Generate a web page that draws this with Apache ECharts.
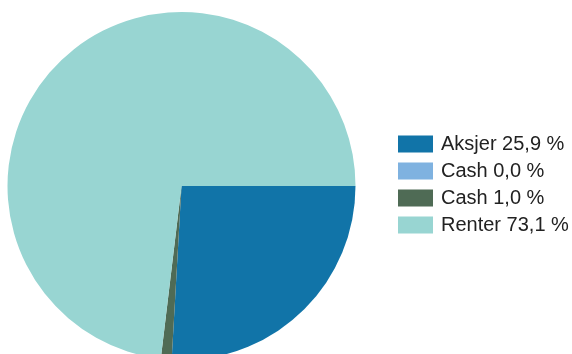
<!DOCTYPE html>
<html><head><meta charset="utf-8">
<script src="https://cdn.jsdelivr.net/npm/echarts@6/dist/echarts.min.js"></script>
<style>html,body{margin:0;padding:0;background:#fff}#c{width:572px;height:354px}</style>
</head><body><div id="c"></div>
<script>
const categories = ['Aksjer', 'Cash', 'Cash', 'Renter'];
const values = [25.9, 0.0, 1.0, 73.1];
const colors = ['#1174a8', '#7fb2e0', '#4f6b55', '#98d5d2'];

const labels = categories.map((c, i) => c + ' ' + values[i].toFixed(1).replace('.', ',') + ' %');
const data = values.map((v, i) => ({ name: labels[i], value: v, itemStyle: { color: colors[i] } }));

const chart = echarts.init(document.getElementById('c'), null, { renderer: 'canvas' });
chart.setOption({
  animation: false,
  legend: {
    orient: 'vertical',
    left: 398, top: 134,
    padding: 0,
    itemWidth: 35, itemHeight: 17, itemGap: 7,
    icon: 'rect',
    data: labels,
    textStyle: { fontFamily: 'Liberation Sans, Arial, sans-serif', fontSize: 20, color: '#222', padding: [0,0,0,3] }
  },
  series: [{
    type: 'pie',
    center: [181.5, 186],
    radius: [0, 174],
    startAngle: 0,
    clockwise: true,
    label: { show: false },
    labelLine: { show: false },
    emphasis: { disabled: true },
    itemStyle: { borderWidth: 0 },
    data: data
  }]
});
</script></body></html>
